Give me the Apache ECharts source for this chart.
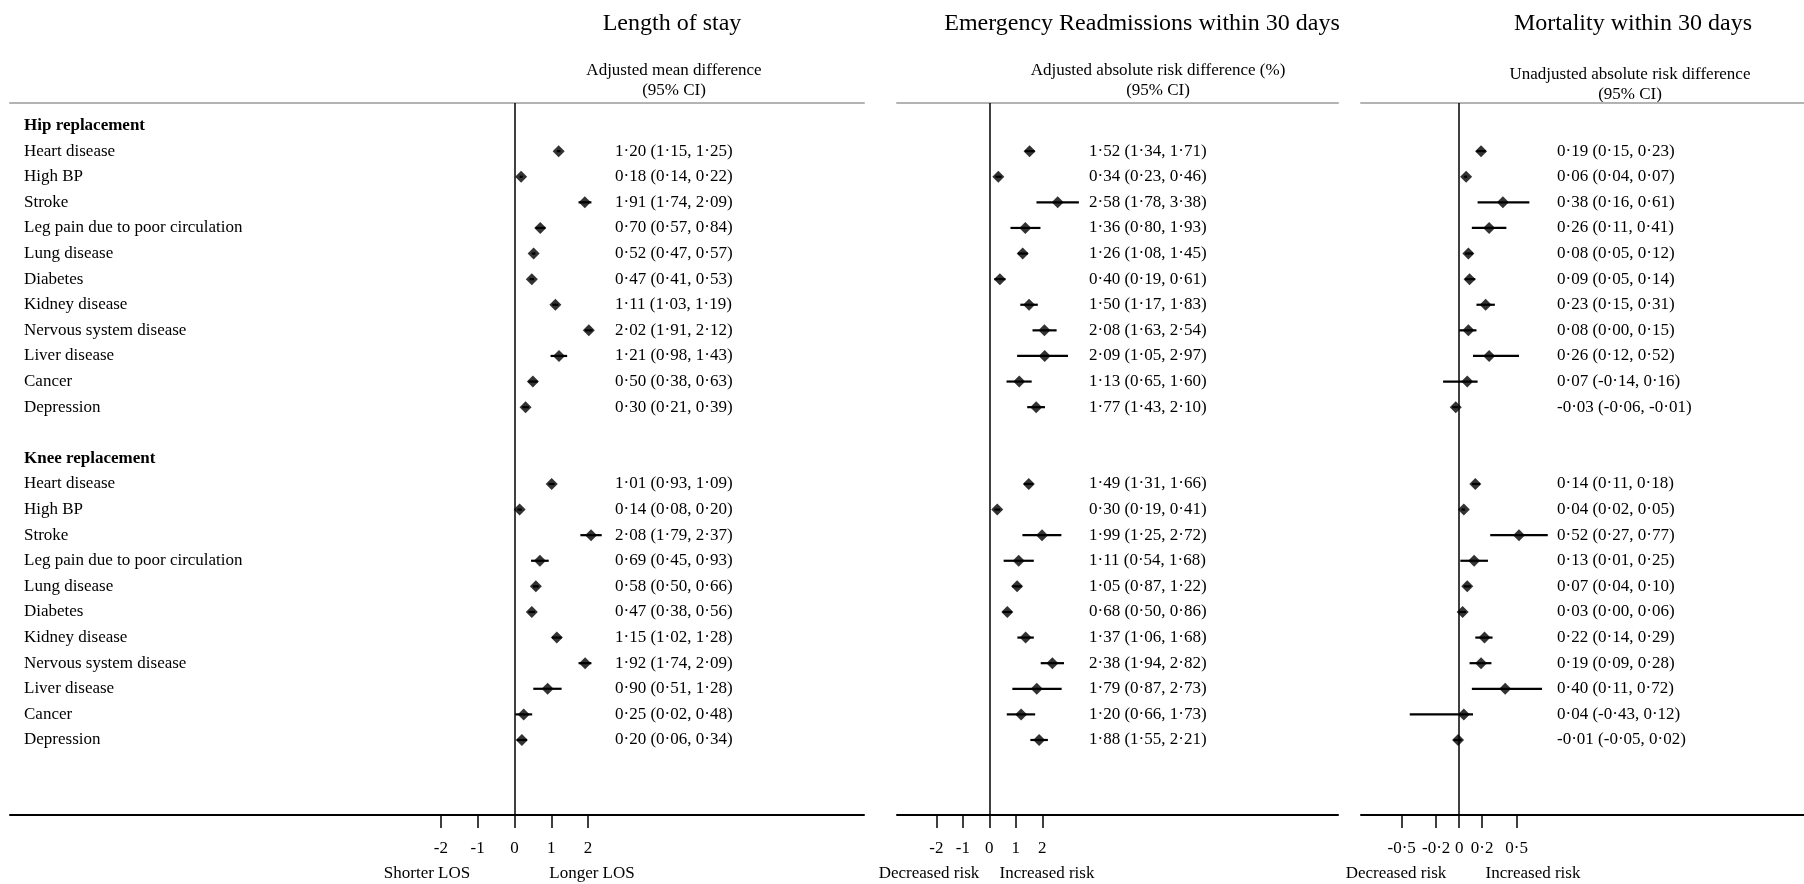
<!DOCTYPE html>
<html>
<head>
<meta charset="utf-8">
<script src="https://cdn.jsdelivr.net/npm/echarts@6/dist/echarts.min.js"></script>
<style>
  html, body { margin: 0; padding: 0; background: #fff; }
  #forest { width: 1804px; height: 884px; }
</style>
</head>
<body>
<div id="forest"></div>
<script>
// rows: 0 = hip header, 1-11 hip conditions, 13 = knee header, 14-24 knee conditions
const groups = ['Hip replacement', 'Knee replacement'];
const conditions = ['Heart disease', 'High BP', 'Stroke', 'Leg pain due to poor circulation', 'Lung disease',
  'Diabetes', 'Kidney disease', 'Nervous system disease', 'Liver disease', 'Cancer', 'Depression'];

// [estimate, lower, upper]
const losHip = [[1.20, 1.15, 1.25], [0.18, 0.14, 0.22], [1.91, 1.74, 2.09], [0.70, 0.57, 0.84], [0.52, 0.47, 0.57],
  [0.47, 0.41, 0.53], [1.11, 1.03, 1.19], [2.02, 1.91, 2.12], [1.21, 0.98, 1.43], [0.50, 0.38, 0.63], [0.30, 0.21, 0.39]];
const losKnee = [[1.01, 0.93, 1.09], [0.14, 0.08, 0.20], [2.08, 1.79, 2.37], [0.69, 0.45, 0.93], [0.58, 0.50, 0.66],
  [0.47, 0.38, 0.56], [1.15, 1.02, 1.28], [1.92, 1.74, 2.09], [0.90, 0.51, 1.28], [0.25, 0.02, 0.48], [0.20, 0.06, 0.34]];
const readmHip = [[1.52, 1.34, 1.71], [0.34, 0.23, 0.46], [2.58, 1.78, 3.38], [1.36, 0.80, 1.93], [1.26, 1.08, 1.45],
  [0.40, 0.19, 0.61], [1.50, 1.17, 1.83], [2.08, 1.63, 2.54], [2.09, 1.05, 2.97], [1.13, 0.65, 1.60], [1.77, 1.43, 2.10]];
const readmKnee = [[1.49, 1.31, 1.66], [0.30, 0.19, 0.41], [1.99, 1.25, 2.72], [1.11, 0.54, 1.68], [1.05, 0.87, 1.22],
  [0.68, 0.50, 0.86], [1.37, 1.06, 1.68], [2.38, 1.94, 2.82], [1.79, 0.87, 2.73], [1.20, 0.66, 1.73], [1.88, 1.55, 2.21]];
const mortHip = [[0.19, 0.15, 0.23], [0.06, 0.04, 0.07], [0.38, 0.16, 0.61], [0.26, 0.11, 0.41], [0.08, 0.05, 0.12],
  [0.09, 0.05, 0.14], [0.23, 0.15, 0.31], [0.08, 0.00, 0.15], [0.26, 0.12, 0.52], [0.07, -0.14, 0.16], [-0.03, -0.06, -0.01]];
const mortKnee = [[0.14, 0.11, 0.18], [0.04, 0.02, 0.05], [0.52, 0.27, 0.77], [0.13, 0.01, 0.25], [0.07, 0.04, 0.10],
  [0.03, 0.00, 0.06], [0.22, 0.14, 0.29], [0.19, 0.09, 0.28], [0.40, 0.11, 0.72], [0.04, -0.43, 0.12], [-0.01, -0.05, 0.02]];

const losTicks = [-2, -1, 0, 1, 2];
const readmTicks = [-2, -1, 0, 1, 2];
const mortTicks = [-0.5, -0.2, 0, 0.2, 0.5];

const FONT = 'Liberation Serif';
const fmt = v => v.toFixed(2).replace('.', '\u00b7');
const tickFmt = v => String(v).replace('.', '\u00b7');

// layout of the three panels (pixels)
const panels = [
  { left: 10, width: 854, zero: 514.5, ppu: 36.8, ticks: losTicks, hip: losHip, knee: losKnee,
    title: 'Length of stay', titleX: 672, sub: ['Adjusted mean difference', '(95% CI)'], subX: 674, subY: 71,
    below: [['Shorter LOS', 427], ['Longer LOS', 592]] },
  { left: 897, width: 441, zero: 989.3, ppu: 26.5, ticks: readmTicks, hip: readmHip, knee: readmKnee,
    title: 'Emergency Readmissions within 30 days', titleX: 1142, sub: ['Adjusted absolute risk difference (%)', '(95% CI)'], subX: 1158, subY: 71,
    below: [['Decreased risk', 929], ['Increased risk', 1047]] },
  { left: 1361, width: 443, zero: 1459.2, ppu: 115, ticks: mortTicks, hip: mortHip, knee: mortKnee,
    title: 'Mortality within 30 days', titleX: 1633, sub: ['Unadjusted absolute risk difference', '(95% CI)'], subX: 1630, subY: 75,
    below: [['Decreased risk', 1396], ['Increased risk', 1533]] }
];

const gridTop = 103, gridHeight = 712;
const rowMin = -0.88, rowMax = 26.93;
const hipRows = conditions.map((c, i) => i + 1);
const kneeRows = conditions.map((c, i) => i + 14);

const rowNames = {};
rowNames[0] = groups[0];
rowNames[13] = groups[1];
conditions.forEach((c, i) => { rowNames[i + 1] = c; rowNames[i + 14] = c; });

const grid = [], xAxis = [], yAxis = [], series = [], graphic = [];

panels.forEach((p, i) => {
  const min = -(p.zero - p.left) / p.ppu;
  const max = (p.left + p.width - p.zero) / p.ppu;
  grid.push({ left: p.left, width: p.width, top: gridTop, height: gridHeight, containLabel: false, outerBoundsMode: 'none' });

  xAxis.push({
    gridIndex: i, type: 'value', min: min, max: max, position: 'bottom',
    axisLine: { onZero: false, lineStyle: { color: '#000', width: 2 } },
    axisTick: { show: true, length: 13, customValues: p.ticks, lineStyle: { color: '#000', width: 1.5 } },
    axisLabel: { customValues: p.ticks, formatter: tickFmt, margin: 25, color: '#000', fontSize: 17, fontFamily: FONT },
    splitLine: { show: false }
  });
  xAxis.push({
    gridIndex: i, type: 'value', min: min, max: max, position: 'top',
    axisLine: { onZero: false, lineStyle: { color: '#b3b3b3', width: 2 } },
    axisTick: { show: false }, axisLabel: { show: false }, splitLine: { show: false }
  });

  const estText = {};
  p.hip.forEach((d, k) => { estText[hipRows[k]] = fmt(d[0]) + ' (' + fmt(d[1]) + ', ' + fmt(d[2]) + ')'; });
  p.knee.forEach((d, k) => { estText[kneeRows[k]] = fmt(d[0]) + ' (' + fmt(d[1]) + ', ' + fmt(d[2]) + ')'; });

  const yIdx = yAxis.length;
  yAxis.push({
    gridIndex: i, type: 'value', inverse: true, min: rowMin, max: rowMax, position: 'right',
    offset: i === 2 ? -255 : -257,
    axisLine: { show: false, onZero: false }, axisTick: { show: false }, splitLine: { show: false },
    axisLabel: { customValues: hipRows.concat(kneeRows), formatter: v => estText[v] || '', margin: 8,
      color: '#000', fontSize: 17, fontFamily: FONT }
  });
  if (i === 0) {
    yAxis.push({
      gridIndex: 0, type: 'value', inverse: true, min: rowMin, max: rowMax, position: 'left',
      axisLine: { show: false, onZero: false }, axisTick: { show: false }, splitLine: { show: false },
      axisLabel: {
        inside: true, margin: 14, customValues: [0].concat(hipRows, [13], kneeRows),
        formatter: v => (v === 0 || v === 13) ? '{b|' + rowNames[v] + '}' : rowNames[v],
        color: '#000', fontSize: 17, fontFamily: FONT,
        rich: { b: { fontWeight: 'bold', fontSize: 17, fontFamily: FONT, color: '#000' } }
      }
    });
  }

  const all = p.hip.map((d, k) => [d[0], d[1], d[2], hipRows[k]])
    .concat(p.knee.map((d, k) => [d[0], d[1], d[2], kneeRows[k]]));

  series.push({
    type: 'custom', xAxisIndex: i * 2, yAxisIndex: yIdx, silent: true,
    data: all.map(d => [d[1], d[2], d[3]]),
    encode: { x: [0, 1], y: 2 },
    renderItem: (params, api) => {
      const a = api.coord([api.value(0), api.value(2)]);
      const b = api.coord([api.value(1), api.value(2)]);
      return { type: 'line', shape: { x1: a[0], y1: a[1], x2: b[0], y2: b[1] },
        style: { stroke: '#000', lineWidth: 2.2 } };
    }
  });
  series.push({
    type: 'scatter', xAxisIndex: i * 2, yAxisIndex: yIdx, silent: true,
    symbol: 'diamond', symbolSize: 12, itemStyle: { color: '#000' },
    data: all.map(d => [d[0], d[3]]),
    markLine: {
      silent: true, symbol: ['none', 'none'], label: { show: false },
      lineStyle: { color: '#000', width: 1.5, type: 'solid' },
      data: [{ xAxis: 0 }]
    }
  });

  graphic.push({ type: 'text', x: p.titleX, y: 24,
    style: { text: p.title, font: '24px "' + FONT + '"', fill: '#000', align: 'center', verticalAlign: 'middle',
      textAlign: 'center', textVerticalAlign: 'middle' } });
  p.sub.forEach((s, k) => {
    graphic.push({ type: 'text', x: p.subX, y: p.subY + k * 20,
      style: { text: s, font: '17px "' + FONT + '"', fill: '#000', align: 'center', verticalAlign: 'middle',
        textAlign: 'center', textVerticalAlign: 'middle' } });
  });
  p.below.forEach(b => {
    graphic.push({ type: 'text', x: b[1], y: 874,
      style: { text: b[0], font: '17px "' + FONT + '"', fill: '#000', align: 'center', verticalAlign: 'middle',
        textAlign: 'center', textVerticalAlign: 'middle' } });
  });
});

const chart = echarts.init(document.getElementById('forest'), null, { renderer: 'canvas' });
chart.setOption({
  backgroundColor: '#fff',
  animation: false,
  grid: grid,
  xAxis: xAxis,
  yAxis: yAxis,
  series: series,
  graphic: graphic
});
</script>
</body>
</html>
